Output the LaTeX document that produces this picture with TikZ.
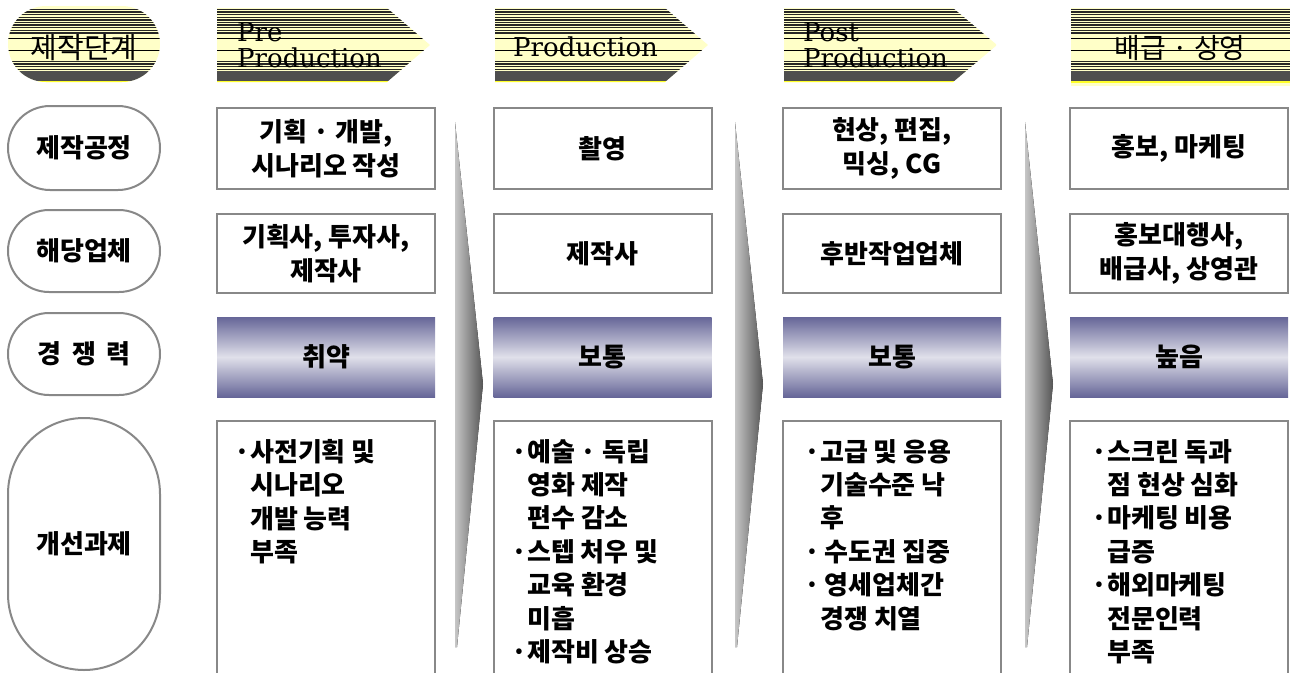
\documentclass[tikz,border=0pt]{standalone}
\usepackage{fontspec}
\setmainfont{Noto Sans CJK KR}
\newfontfamily\hdrfont{DejaVu Serif}

\definecolor{edgegray}{RGB}{136,136,136}
\definecolor{slate}{RGB}{102,102,152}
\definecolor{mist}{RGB}{224,224,234}
\definecolor{wedgelight}{RGB}{198,198,198}
\definecolor{wedgedark}{RGB}{86,86,86}
\definecolor{hdrlight}{RGB}{255,255,200}
\definecolor{hdrdark}{RGB}{78,78,78}
\definecolor{hdredge}{RGB}{255,255,40}

\tikzset{
  stripe/.style={line width=1.4pt, black!85},
  thinstripe/.style={line width=0.9pt, black},
  rowlabel/.style={draw=edgegray, line width=2pt, minimum width=152pt, inner sep=0pt,
    font=\fontsize{26}{30}\selectfont\bfseries},
  cell/.style={draw=edgegray, line width=2pt, minimum width=218pt, inner sep=0pt,
    align=center, font=\fontsize{26}{34}\selectfont\bfseries},
  grade/.style={minimum width=218pt, minimum height=80pt, inner sep=0pt,
    top color=slate, bottom color=slate, middle color=mist,
    font=\fontsize{26}{30}\selectfont\bfseries},
  tasktext/.style={anchor=north west, inner sep=0pt, align=left,
    font=\fontsize{26}{33.4}\selectfont\bfseries},
  hdrtext/.style={anchor=north west, inner sep=0pt, align=left,
    font=\hdrfont\fontsize{26}{26}\selectfont},
}

% striped header fill, used inside a clipped scope
\newcommand{\hdrstripes}[2]{%
  \fill[hdrlight] (#1,0) rectangle (#2,90);
  \foreach \yy in {9.5,12.1,14.7,17.3,19.9,22.5,25.1,27.7,30.3,32.9}
    \draw[stripe] (#1,\yy) -- (#2,\yy);
  \foreach \yy in {38,50}
    \draw[thinstripe] (#1,\yy) -- (#2,\yy);
  \foreach \yy in {61.5,64.1,66.7,69.3}
    \draw[stripe] (#1,\yy) -- (#2,\yy);
  \fill[hdrdark] (#1,71) rectangle (#2,81);
  \fill[hdredge] (#1,81) rectangle (#2,83);
}
\newcommand{\bul}[1]{\makebox[16pt][l]{·}#1}
\newcommand{\ind}[1]{\hspace*{16pt}#1}

\begin{document}
\begin{tikzpicture}[x=1pt, y=-1pt]
  \clip (0,0) rectangle (1290,672);

  % header row
  \begin{scope}
    \clip[rounded corners=38pt] (8,6) rectangle (160,82);
    \hdrstripes{8}{160}
  \end{scope}
  \node[font=\fontsize{29}{30}\selectfont] (stage) at (84,48) {제작단계};

  \begin{scope}
    \clip (217,8) -- (387,8) -- (430,45) -- (387,82) -- (217,82) -- cycle;
    \hdrstripes{217}{430}
  \end{scope}
  \node[hdrtext] (pre) at (237,22) {Pre\\Production};

  \begin{scope}
    \clip (495,8) -- (665,8) -- (708,45) -- (665,82) -- (495,82) -- cycle;
    \hdrstripes{495}{708}
  \end{scope}
  \node[hdrtext] (prod) at (513,37) {Production};

  \begin{scope}
    \clip (784,8) -- (953,8) -- (997,45) -- (953,82) -- (784,82) -- cycle;
    \hdrstripes{784}{997}
  \end{scope}
  \node[hdrtext] (post) at (803,22) {Post\\Production};

  \begin{scope}
    \clip (1071,8) rectangle (1290,85);
    \hdrstripes{1071}{1290}
  \end{scope}
  \node[font=\fontsize{28}{30}\selectfont] (dist) at (1180,48) {배급 · 상영};

  % gray wedges between the columns
  \foreach \x in {455,735,1025}
    \fill[left color=wedgelight, right color=wedgedark]
      (\x,122) -- (\x+28,384) -- (\x+2,647) -- (\x,647) -- cycle;

  % row labels
  \node[rowlabel, minimum height=84pt, rounded corners=42pt] (proc) at (84,148) {제작공정};
  \node[rowlabel, minimum height=82pt, rounded corners=41pt] (firm) at (84,251) {해당업체};
  \node[rowlabel, minimum height=82pt, rounded corners=41pt] (comp) at (84,354) {경\hspace{0.4em}쟁\hspace{0.4em}력};
  \node[rowlabel, minimum height=252pt, rounded corners=76pt] (task) at (84,544) {개선과제};

  % row 1: process
  \foreach \c/\x/\txt in {1/326/{기획 · 개발,\\시나리오 작성}, 2/602.5/촬영,
      3/892/{현상, 편집,\\믹싱, CG}, 4/1179/{홍보, 마케팅}}
    \node[cell, minimum height=81pt] (proc\c) at (\x,148.5) {\txt};

  % row 2: companies
  \foreach \c/\x/\txt in {1/326/{기획사, 투자사,\\제작사}, 2/602.5/제작사,
      3/892/후반작업업체, 4/1179/{홍보대행사,\\배급사, 상영관}}
    \node[cell, minimum height=79pt] (firm\c) at (\x,253.5) {\txt};

  % row 3: competitiveness
  \foreach \c/\x/\txt in {1/326/취약, 2/602.5/보통, 3/892/보통, 4/1179/높음}
    \node[grade] (comp\c) at (\x,357) {\txt};

  % row 4: tasks (boxes run past the bottom edge)
  \foreach \c/\x in {1/326, 2/602.5, 3/892, 4/1179}
    \node[draw=edgegray, line width=2pt, minimum width=218pt, minimum height=280pt,
      inner sep=0pt] (task\c) at (\x,561) {};

  \node[tasktext] (tasktxt1) at (234,439) {\bul{사전기획 및}\\\ind{시나리오}\\\ind{개발 능력}\\\ind{부족}};
  \node[tasktext] (tasktxt2) at (511,439) {\bul{예술 · 독립}\\\ind{영화 제작}\\\ind{편수 감소}\\
    \bul{스텝 처우 및}\\\ind{교육 환경}\\\ind{미흡}\\\bul{제작비 상승}};
  \node[tasktext] (tasktxt3) at (804,439) {\bul{고급 및 응용}\\\ind{기술수준 낙}\\\ind{후}\\
    \bul{\,수도권 집중}\\\bul{\,영세업체간}\\\ind{경쟁 치열}};
  \node[tasktext] (tasktxt4) at (1091,439) {\bul{스크린 독과}\\\ind{점 현상 심화}\\\bul{마케팅 비용}\\
    \ind{급증}\\\bul{해외마케팅}\\\ind{전문인력}\\\ind{부족}};
\end{tikzpicture}
\end{document}
